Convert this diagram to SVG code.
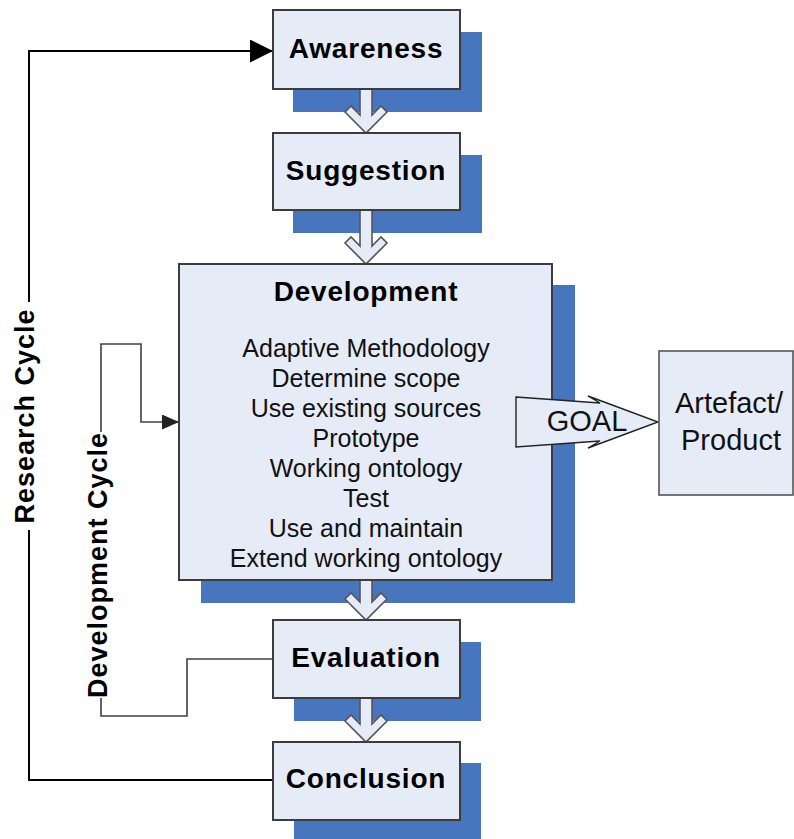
<svg xmlns="http://www.w3.org/2000/svg" width="794" height="839" viewBox="0 0 794 839">
  <style>
    .shadow { fill: #4876be; }
    .box { fill: #e6ecf7; stroke: #3c3c3c; stroke-width: 2; }
    .title { font-family: "Liberation Sans", Arial, sans-serif; font-weight: bold; font-size: 28px; letter-spacing: 0.8px; fill: #000; text-anchor: middle; }
    .body { font-family: "Liberation Sans", Arial, sans-serif; font-size: 25px; fill: #111; text-anchor: middle; }
    .big { font-family: "Liberation Sans", Arial, sans-serif; font-size: 29px; fill: #111; text-anchor: middle; }
    .flow { fill: #e6ecf7; stroke: #555; stroke-width: 1.6; stroke-linejoin: miter; }
    .research { fill: none; stroke: #000; stroke-width: 2; }
    .devcycle { fill: none; stroke: #404040; stroke-width: 1.6; }
    .cyclelabel { font-family: "Liberation Sans", Arial, sans-serif; font-weight: bold; font-size: 27px; letter-spacing: 1px; fill: #000; text-anchor: middle; }
  </style>
  <defs>
    <marker id="headBlack" markerUnits="userSpaceOnUse" markerWidth="23" markerHeight="23" refX="23" refY="11.5" orient="auto">
      <path d="M0,0 L23,11.5 L0,23 Z" fill="#000"/>
    </marker>
    <marker id="headGrey" markerUnits="userSpaceOnUse" markerWidth="17" markerHeight="15" refX="17" refY="7.5" orient="auto">
      <path d="M0,0 L17,7.5 L0,15 Z" fill="#222"/>
    </marker>
  </defs>

  <!-- drop shadows -->
  <g id="shadows">
    <rect class="shadow" x="293" y="32" width="189" height="80"/>
    <rect class="shadow" x="293" y="155" width="189" height="78"/>
    <rect class="shadow" x="201" y="285" width="374" height="318"/>
    <rect class="shadow" x="294" y="642" width="187" height="79"/>
    <rect class="shadow" x="294" y="763" width="187" height="80"/>
  </g>

  <!-- connectors -->
  <g id="connectors">
    <!-- research cycle loop -->
    <path class="research" d="M273,780 H29 V530"/>
    <path class="research" d="M29,302 V51 H273" marker-end="url(#headBlack)"/>
    <!-- development cycle loop -->
    <path class="devcycle" d="M273,659 H187 V716 H101 V698"/>
    <path class="devcycle" d="M101,432 V344 H141 V422 H179" marker-end="url(#headGrey)"/>
    <!-- block arrows between phases -->
    <polygon class="flow" points="360,89 372,89 372,115 381,106 387,112 366,133 345,112 351,106 360,115"/>
    <polygon class="flow" points="360,210 372,210 372,246 381,237 387,243 366,264 345,243 351,237 360,246"/>
    <polygon class="flow" points="360,580 372,580 372,602 381,593 387,599 366,620 345,599 351,593 360,602"/>
    <polygon class="flow" points="360,698 372,698 372,724 381,715 387,721 366,742 345,721 351,715 360,724"/>
  </g>

  <g id="awareness">
    <rect class="box" x="273" y="10" width="187" height="79"/>
    <text class="title" x="366" y="58">Awareness</text>
  </g>

  <g id="suggestion">
    <rect class="box" x="273" y="133" width="187" height="77"/>
    <text class="title" x="366" y="180">Suggestion</text>
  </g>

  <g id="development">
    <rect class="box" x="179" y="264" width="373" height="316"/>
    <text class="title" x="366" y="301">Development</text>
    <text class="body" x="366" y="357">Adaptive Methodology</text>
    <text class="body" x="366" y="387">Determine scope</text>
    <text class="body" x="366" y="417">Use existing sources</text>
    <text class="body" x="366" y="447">Prototype</text>
    <text class="body" x="366" y="477">Working ontology</text>
    <text class="body" x="366" y="507">Test</text>
    <text class="body" x="366" y="537">Use and maintain</text>
    <text class="body" x="366" y="567">Extend working ontology</text>
  </g>

  <g id="evaluation">
    <rect class="box" x="273" y="620" width="187" height="78"/>
    <text class="title" x="366" y="667">Evaluation</text>
  </g>

  <g id="conclusion">
    <rect class="box" x="273" y="742" width="187" height="78"/>
    <text class="title" x="366" y="788">Conclusion</text>
  </g>

  <g id="goal">
    <polygon points="516,397 600,403 588,396 658,422 588,448 600,441 516,447" fill="#e6ecf7" stroke="#222" stroke-width="1.4"/>
    <text class="big" x="587" y="431">GOAL</text>
  </g>

  <g id="artefact">
    <rect x="659" y="351" width="134" height="144" fill="#e6ecf7" stroke="#555" stroke-width="1.6"/>
    <text class="big" x="729" y="413">Artefact/</text>
    <text class="big" x="731" y="450">Product</text>
  </g>

  <g id="research-cycle-label">
    <text class="cyclelabel" transform="translate(34,416) rotate(-90)">Research Cycle</text>
  </g>

  <g id="development-cycle-label">
    <text class="cyclelabel" transform="translate(107,565) rotate(-90)">Development Cycle</text>
  </g>
</svg>
